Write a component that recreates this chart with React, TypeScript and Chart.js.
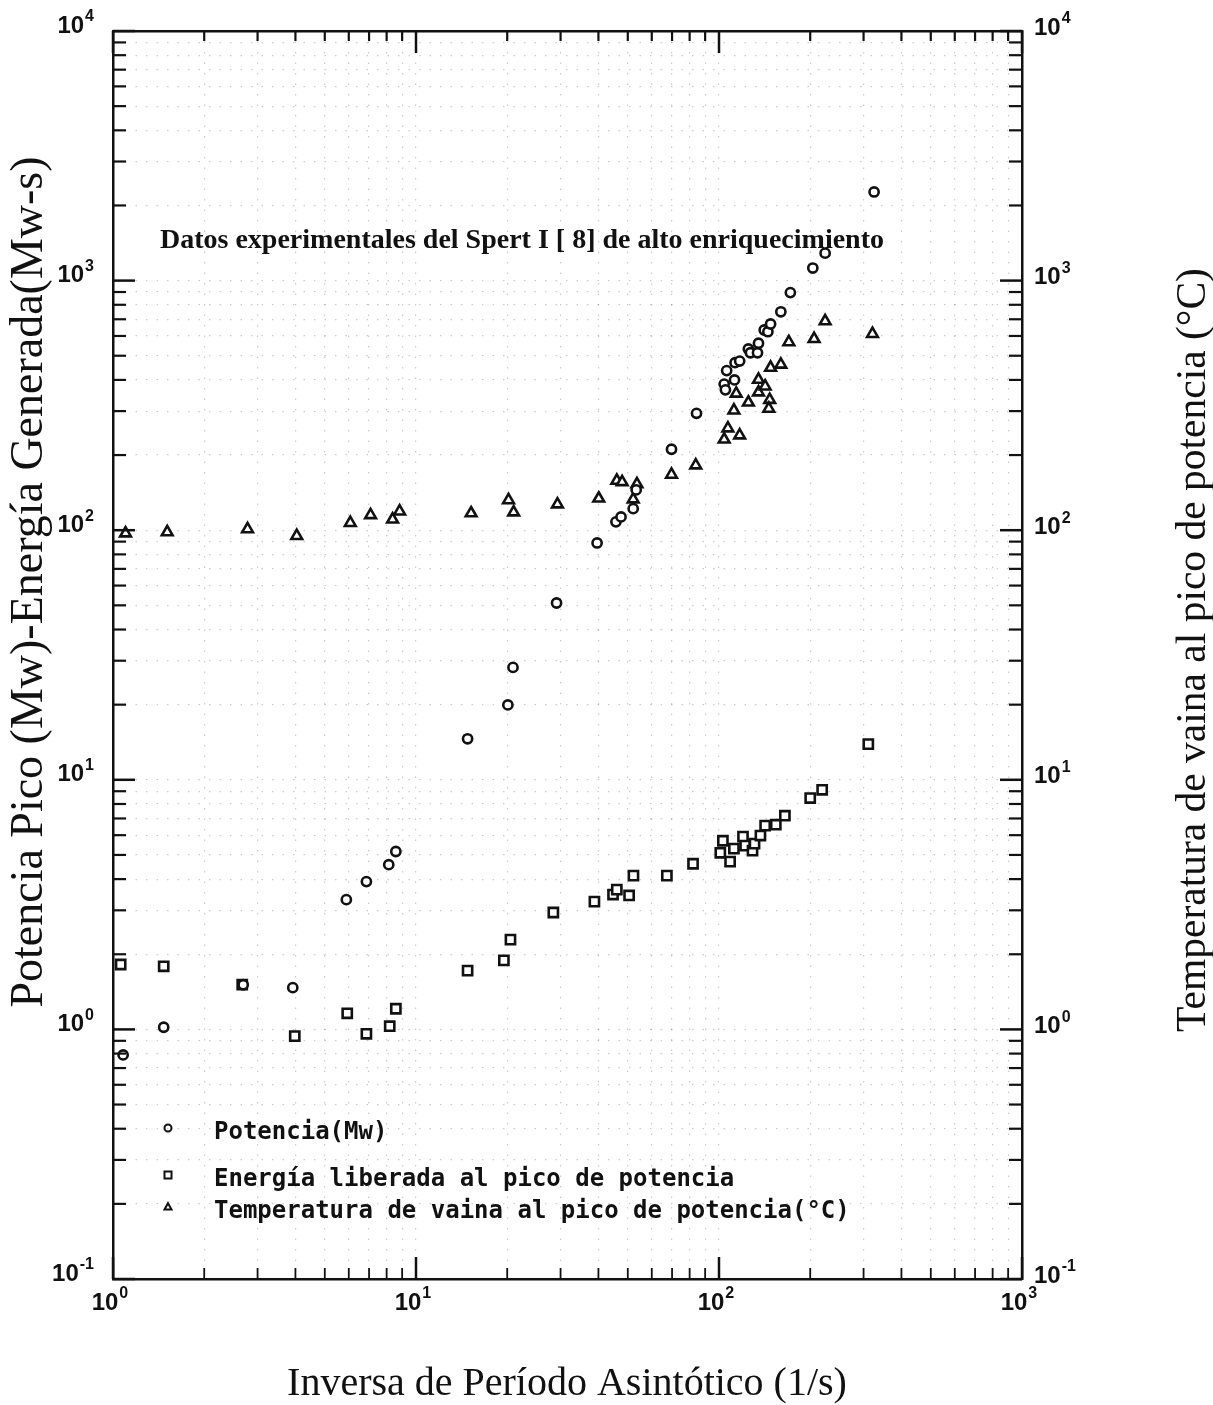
import React, { useEffect, useRef } from 'react';
import { Chart, registerables } from 'chart.js';

Chart.register(...registerables);

// ---- data ----
const potenciaX = [1.08, 1.47, 2.69, 3.92, 5.89, 6.86, 8.13, 8.58, 14.8, 20.1, 20.9, 29.1, 39.6, 45.7, 47.5, 52.1, 53.3, 69.7, 84.3, 104, 105, 106, 112.5, 113, 117, 125, 127, 134, 135, 141, 145, 148, 160, 172, 204, 224, 325];
const potenciaY = [0.79, 1.02, 1.51, 1.47, 3.31, 3.91, 4.57, 5.16, 14.6, 19.95, 28.2, 51.1, 88.9, 108, 113, 122, 145, 211, 294, 385, 365, 436, 400, 469, 476, 532, 514, 514, 561, 634, 624, 670, 750, 895, 1123, 1288, 2265];

const energiaX = [1.06, 1.47, 2.67, 3.98, 5.93, 6.86, 8.19, 8.58, 14.8, 19.5, 20.5, 28.4, 38.8, 44.7, 46.0, 50.5, 52.2, 67.3, 82.1, 101, 103, 108.8, 112, 120, 122, 129, 131, 137, 142, 154, 165, 200, 219, 311];
const energiaY = [1.82, 1.79, 1.51, 0.94, 1.16, 0.96, 1.03, 1.21, 1.72, 1.89, 2.29, 2.94, 3.25, 3.47, 3.63, 3.44, 4.13, 4.13, 4.61, 5.10, 5.70, 4.70, 5.30, 5.92, 5.45, 5.20, 5.55, 5.98, 6.55, 6.61, 7.18, 8.45, 9.12, 13.9];

const temperaturaX = [1.10, 1.51, 2.78, 4.04, 6.07, 7.08, 8.37, 8.83, 15.2, 20.2, 21.0, 29.3, 40.1, 46.0, 47.9, 52.1, 53.6, 69.7, 83.8, 104, 107, 117, 112, 114, 125, 135, 135, 142, 147, 146, 148, 160, 170, 206, 224, 321];
const temperaturaY = [97.2, 98.2, 101, 94.9, 107, 115, 110.5, 119, 117, 132, 118, 127, 134, 158, 156, 133, 153, 167, 182, 231, 256, 240, 302, 353, 325, 401, 357, 377, 333, 307, 448, 461, 567, 584, 688, 612];

// ---- axes / labels ----
const xMin = 1;
const xMax = 1000;
const yMin = 0.1;
const yMax = 10000;
const xExponents = ['0', '1', '2', '3'];
const yExponents = ['-1', '0', '1', '2', '3', '4'];
const minorMantissas = [2, 3, 4, 5, 6, 7, 8, 9];

const legendLabels = [
  'Potencia(Mw)',
  'Energía liberada al pico de potencia',
  'Temperatura de vaina al pico de potencia(°C)',
];
const xTitle = 'Inversa de Período Asintótico (1/s)';
const yTitle = 'Potencia Pico (Mw)-Energía Generada(Mw-s)';
const y2Title = 'Temperatura de vaina al pico de potencia (°C)';
const noteText = 'Datos experimentales del Spert I [ 8] de alto enriquecimiento';

function logTicks(exps: string[]) {
  const major = exps.map((e) => Math.pow(10, Number(e)));
  const minor: number[] = [];
  major.slice(0, -1).forEach((m) => minorMantissas.forEach((k) => minor.push(m * k)));
  return { major, minor };
}

const SANS = '"Liberation Sans", Arial, sans-serif';
const SERIF = '"Liberation Serif", "Times New Roman", serif';

function powLabel(ctx: CanvasRenderingContext2D, exp: string, x: number, y: number, mode: 'center' | 'right' | 'left') {
  const baseFont = `bold 24px ${SANS}`;
  const supFont = `bold 16px ${SANS}`;
  ctx.font = baseFont;
  const bw = ctx.measureText('10').width;
  ctx.font = supFont;
  const ew = ctx.measureText(exp).width;
  let x0 = x;
  if (mode === 'center') x0 = x - bw / 2;
  else if (mode === 'right') x0 = x - bw - ew - 1;
  ctx.textAlign = 'left';
  ctx.textBaseline = 'middle';
  ctx.font = baseFont;
  ctx.fillText('10', x0, y);
  ctx.font = supFont;
  ctx.fillText(exp, x0 + bw + 1, y - 9);
}

function marker(ctx: CanvasRenderingContext2D, kind: string, x: number, y: number, r: number) {
  ctx.beginPath();
  if (kind === 'circle') {
    ctx.arc(x, y, r, 0, Math.PI * 2);
  } else if (kind === 'rect') {
    ctx.rect(x - r, y - r, 2 * r, 2 * r);
  } else {
    ctx.moveTo(x, y - r * 1.1);
    ctx.lineTo(x + r, y + r * 0.7);
    ctx.lineTo(x - r, y + r * 0.7);
    ctx.closePath();
  }
  ctx.stroke();
}

const decorPlugin = {
  id: 'decor',
  afterDraw(chart: any) {
    const ctx: CanvasRenderingContext2D = chart.ctx;
    const { left, right, top, bottom } = chart.chartArea;
    const sx = chart.scales.x;
    const sy = chart.scales.y;
    const xt = logTicks(xExponents);
    const yt = logTicks(yExponents);
    ctx.save();
    ctx.strokeStyle = '#111';
    ctx.fillStyle = '#111';
    ctx.lineCap = 'butt';

    // inward ticks
    const tick = (x1: number, y1: number, x2: number, y2: number, w: number) => {
      ctx.lineWidth = w;
      ctx.beginPath();
      ctx.moveTo(x1, y1);
      ctx.lineTo(x2, y2);
      ctx.stroke();
    };
    xt.major.forEach((v) => {
      const p = sx.getPixelForValue(v);
      tick(p, bottom, p, bottom - 22, 2.5);
      tick(p, top, p, top + 22, 2.5);
    });
    xt.minor.forEach((v) => {
      const p = sx.getPixelForValue(v);
      tick(p, bottom, p, bottom - 11, 1.8);
      tick(p, top, p, top + 10, 2.2);
    });
    yt.major.forEach((v) => {
      const p = sy.getPixelForValue(v);
      tick(left, p, left + 22, p, 2.5);
      tick(right, p, right - 22, p, 2.5);
    });
    yt.minor.forEach((v) => {
      const p = sy.getPixelForValue(v);
      tick(left, p, left + 13, p, 2.2);
      tick(right, p, right - 13, p, 2.2);
    });

    // tick labels
    xExponents.forEach((e) => {
      const p = sx.getPixelForValue(Math.pow(10, Number(e)));
      powLabel(ctx, e, p - 8, bottom + 24, 'center');
    });
    yExponents.forEach((e) => {
      const p = sy.getPixelForValue(Math.pow(10, Number(e)));
      powLabel(ctx, e, left - 19, p - 5, 'right');
      powLabel(ctx, e, right + 12, p - 3, 'left');
    });

    // axis titles
    ctx.textAlign = 'center';
    ctx.textBaseline = 'middle';
    ctx.font = `40px ${SERIF}`;
    ctx.fillText(xTitle, 567, 1384);

    ctx.save();
    ctx.translate(30, 582);
    ctx.rotate(-Math.PI / 2);
    ctx.font = `46px ${SERIF}`;
    ctx.fillText(yTitle, 0, 0);
    ctx.restore();

    ctx.save();
    ctx.translate(1194, 650);
    ctx.rotate(-Math.PI / 2);
    ctx.font = `41.5px ${SERIF}`;
    ctx.fillText(y2Title, 0, 0);
    ctx.restore();

    // annotation
    ctx.textAlign = 'left';
    ctx.textBaseline = 'alphabetic';
    ctx.font = `bold 28px ${SERIF}`;
    ctx.fillText(noteText, 160, 248);

    // legend
    const kinds = ['circle', 'rect', 'triangle'];
    const rowsY = [1133, 1180, 1212];
    ctx.font = `bold 24px "DejaVu Sans Mono", monospace`;
    ctx.textBaseline = 'middle';
    ctx.lineWidth = 2;
    legendLabels.forEach((lbl, i) => {
      marker(ctx, kinds[i], 168, rowsY[i] - 5, 3.5);
      ctx.fillText(lbl, 214, rowsY[i]);
    });
    ctx.restore();
  },
};

export default function App() {
  const ref = useRef<HTMLCanvasElement | null>(null);
  useEffect(() => {
    if (!ref.current) return;
    const xt = logTicks(xExponents);
    const yt = logTicks(yExponents);
    const allX = [...xt.major, ...xt.minor].sort((a, b) => a - b);
    const allY = [...yt.major, ...yt.minor].sort((a, b) => a - b);
    const pointBase = {
      showLine: false,
      pointBorderColor: '#111',
      pointBackgroundColor: '#fff',
      pointBorderWidth: 2.6,
      borderColor: '#111',
      backgroundColor: '#fff',
    };
    const chart = new Chart(ref.current, {
      type: 'scatter',
      data: {
        datasets: [
          {
            ...pointBase,
            label: legendLabels[0],
            data: potenciaX.map((x, i) => ({ x, y: potenciaY[i] })),
            pointStyle: 'circle',
            pointRadius: 4.6,
            yAxisID: 'y',
          },
          {
            ...pointBase,
            label: legendLabels[1],
            data: energiaX.map((x, i) => ({ x, y: energiaY[i] })),
            pointStyle: 'rect',
            pointRadius: 6.5,
            yAxisID: 'y',
          },
          {
            ...pointBase,
            label: legendLabels[2],
            data: temperaturaX.map((x, i) => ({ x, y: temperaturaY[i] })),
            pointStyle: 'triangle',
            pointRadius: 6.2,
            yAxisID: 'y2',
          },
        ],
      },
      options: {
        animation: false,
        responsive: true,
        maintainAspectRatio: false,
        layout: { padding: { left: 113, right: 191, top: 31, bottom: 126 } },
        plugins: { legend: { display: false }, tooltip: { enabled: false } },
        scales: {
          x: {
            type: 'logarithmic',
            position: 'bottom',
            min: xMin,
            max: xMax,
            afterBuildTicks: (s: any) => { s.ticks = allX.map((value) => ({ value })); },
            ticks: { display: false },
            grid: { drawTicks: false, color: 'rgba(0,0,0,0.2)', lineWidth: 1.2 },
            border: { display: true, color: '#111', width: 2.5, dash: [1.5, 9] },
          },
          x2: {
            type: 'logarithmic',
            position: 'top',
            min: xMin,
            max: xMax,
            ticks: { display: false },
            grid: { display: false, drawTicks: false },
            border: { display: true, color: '#111', width: 2.5 },
          },
          y: {
            type: 'logarithmic',
            position: 'left',
            min: yMin,
            max: yMax,
            afterBuildTicks: (s: any) => { s.ticks = allY.map((value) => ({ value })); },
            ticks: { display: false },
            grid: { drawTicks: false, color: 'rgba(0,0,0,0.2)', lineWidth: 1.2 },
            border: { display: true, color: '#111', width: 2.5, dash: [1.5, 9] },
          },
          y2: {
            type: 'logarithmic',
            position: 'right',
            min: yMin,
            max: yMax,
            ticks: { display: false },
            grid: { display: false, drawTicks: false },
            border: { display: true, color: '#111', width: 2.5 },
          },
        },
      } as any,
      plugins: [decorPlugin],
    });
    return () => chart.destroy();
  }, []);

  return (
    <div style={{ position: 'absolute', left: 0, top: 0, width: 1213, height: 1405, background: '#fff' }}>
      <canvas ref={ref} />
    </div>
  );
}
